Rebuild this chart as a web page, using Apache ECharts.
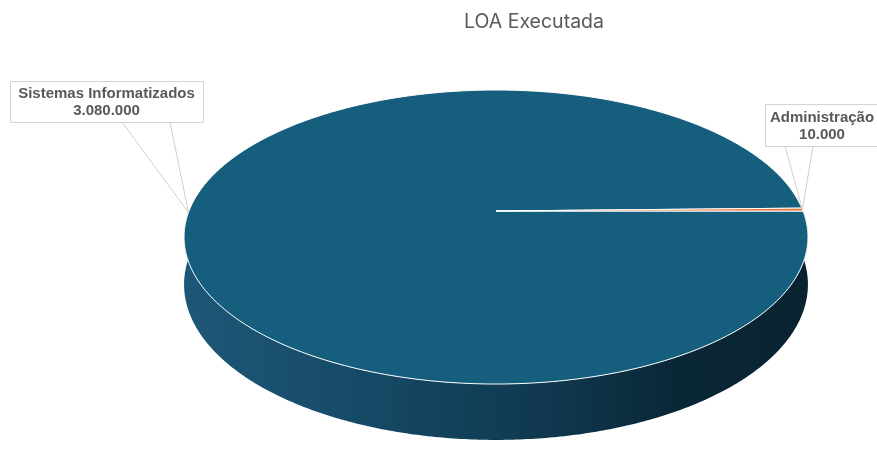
<!DOCTYPE html>
<html>
<head>
<meta charset="utf-8">
<script src="https://cdn.jsdelivr.net/npm/echarts@6/dist/echarts.min.js"></script>
<style>
  html, body { margin: 0; padding: 0; background: #fff; }
  #main { width: 877px; height: 454px; }
</style>
</head>
<body>
<div id="main"></div>
<script>
var myChart = echarts.init(document.getElementById('main'));

// dados
var categories = ['Sistemas Informatizados', 'Administração'];
var values = [3080000, 10000];

// cores das fatias (topo) e da lateral
var topColors = ['#155E7D', '#E97132'];
var sideStops = [
  [['#1d5777', 0], ['#154965', 0.3], ['#0f374d', 0.6], ['#0a2737', 0.8], ['#0a2331', 1]],
  [['#a3501f', 0], ['#7a3a16', 1]]
];

// geometria da pizza 3D (perspectiva simples)
var cx = 496, cy = 211, ra = 307, rb = 142.4, persp = 0.177, depth = 46;
// caixas dos rótulos [x, y, largura, altura, base1, base2]
var labelBoxes = [
  [10, 81, 193, 41, 122, 170],
  [765, 104, 114, 42, 785, 813]
];

var total = values.reduce(function (s, v) { return s + v; }, 0);
var starts = [];
var acc = 0;
values.forEach(function (v) { starts.push(acc / total * Math.PI * 2); acc += v; });

function proj(t, drop) {
  var u = Math.cos(t), v = Math.sin(t);
  var k = 1 / (1 - persp * v);
  return [cx + ra * u * k, cy + rb * v * k + (drop || 0) * k];
}

function fmt(n) {
  return String(n).replace(/\B(?=(\d{3})+(?!\d))/g, '.');
}

function arcPoints(t0, t1, drop) {
  var pts = [];
  var n = Math.max(2, Math.ceil(Math.abs(t1 - t0) / 0.01));
  for (var i = 0; i <= n; i++) {
    pts.push(proj(t0 + (t1 - t0) * i / n, drop));
  }
  return pts;
}

function sideItem(params, api) {
  var i = params.dataIndex;
  var t0 = starts[i];
  var t1 = t0 + api.value(1) / total * Math.PI * 2;
  // parte visível: metade da frente
  var a0 = Math.max(t0, 0), a1 = Math.min(t1, Math.PI);
  if (a1 <= a0) return;
  var top = arcPoints(a0, a1, 0);
  var bottom = arcPoints(a1, a0, depth);
  return {
    type: 'polygon',
    shape: { points: top.concat(bottom) },
    style: {
      fill: new echarts.graphic.LinearGradient(cx - ra, 0, cx + ra, 0,
        sideStops[i].map(function (s) { return { offset: s[1], color: s[0] }; }), true)
    }
  };
}

function topItem(params, api) {
  var i = params.dataIndex;
  var t0 = starts[i];
  var t1 = t0 + api.value(1) / total * Math.PI * 2;
  var pts = [[cx, cy]].concat(arcPoints(t0, t1, 0));
  var mid = (t0 + t1) / 2;
  var anchor = proj(mid, 0);
  var box = labelBoxes[i];
  var by = box[1] + box[3];
  return {
    type: 'group',
    children: [
      {
        type: 'polygon',
        shape: { points: pts },
        style: { fill: topColors[i], stroke: '#ffffff', lineWidth: 1 }
      },
      {
        type: 'polyline',
        shape: { points: [[box[4], by], anchor, [box[5], by]] },
        style: { stroke: '#cfcfcf', lineWidth: 1, fill: null }
      },
      {
        type: 'rect',
        shape: { x: box[0] + 0.5, y: box[1] + 0.5, width: box[2], height: box[3] },
        style: { fill: '#ffffff', stroke: '#d4d4d4', lineWidth: 1 }
      },
      {
        type: 'text',
        style: {
          text: categories[i] + '\n' + fmt(api.value(1)),
          x: box[0] + box[2] / 2,
          y: box[1] + box[3] / 2 + 1,
          align: 'center',
          verticalAlign: 'middle',
          fill: '#595959',
          font: 'bold 15px "Liberation Sans", Arial, sans-serif',
          lineHeight: 17
        }
      }
    ]
  };
}

var seriesData = categories.map(function (c, i) { return [i, values[i]]; });

var option = {
  animation: false,
  title: {
    text: 'LOA Executada',
    left: 529,
    top: 7,
    textAlign: 'center',
    textStyle: {
      color: '#595959',
      fontWeight: 'normal',
      fontSize: 19.5,
      fontFamily: 'Inter, "Open Sans", sans-serif'
    }
  },
  series: [
    {
      type: 'custom',
      coordinateSystem: 'none',
      silent: true,
      renderItem: sideItem,
      data: seriesData
    },
    {
      type: 'custom',
      coordinateSystem: 'none',
      silent: true,
      renderItem: topItem,
      data: seriesData
    }
  ]
};

myChart.setOption(option);
</script>
</body>
</html>
